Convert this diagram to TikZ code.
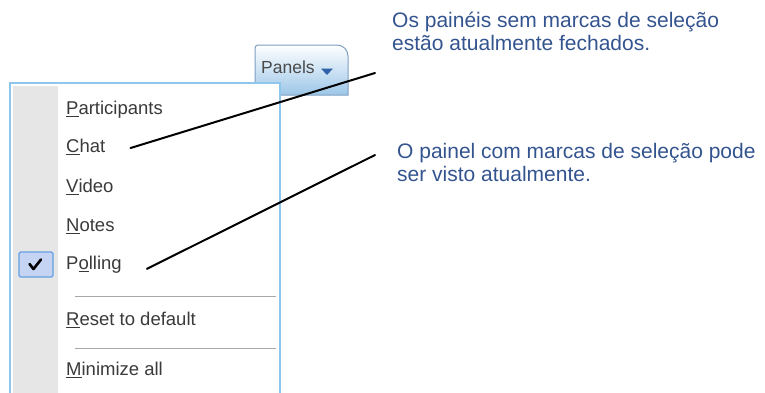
\documentclass[tikz,border=0pt]{standalone}
\usepackage{fontspec}
\setmainfont{Liberation Sans}
\definecolor{notecol}{HTML}{34548F}
\definecolor{menuborder}{HTML}{8EC6EE}
\definecolor{stripgray}{HTML}{E6E6E6}
\definecolor{itemcol}{HTML}{3A3A3A}
\definecolor{sepcol}{HTML}{A8A8A8}
\definecolor{checkfill}{HTML}{C4D4F2}
\definecolor{checkborder}{HTML}{62A0E2}
\definecolor{tabborder}{HTML}{7E9FC2}
\definecolor{tabbottom}{HTML}{9CC6E8}
\definecolor{tabtext}{HTML}{4A4A4A}
\definecolor{arrowblue}{HTML}{2F62A8}
\tikzset{
  note/.style={anchor=west, inner sep=0pt, align=left, text=notecol,
    font=\fontsize{21}{23}\selectfont},
  item/.style={anchor=mid west, inner sep=0pt, text=itemcol,
    font=\fontsize{18.5}{20}\selectfont},
  leader/.style={line width=2pt, black, line cap=round},
  sepline/.style={sepcol, line width=1pt},
}
\begin{document}
\begin{tikzpicture}[x=1pt,y=-1pt]
\useasboundingbox (0,0) rectangle (765,392);
% Panels tab
\shadedraw[top color=white, bottom color=tabbottom, draw=tabborder, line width=1pt]
  (255,95) -- (255,48) arc[start angle=180, end angle=270, radius=3]
  -- (337,45) arc[start angle=-90, end angle=0, radius=11] -- (348,95) -- cycle;
\node[anchor=mid west, inner sep=0pt, text=tabtext, font=\fontsize{17.5}{19}\selectfont] (panels) at (261,71) {Panels};
\fill[arrowblue] (321,68.5) -- (333,68.5) -- (327,75) -- cycle;
% menu
\fill[white] (10,83) rectangle (280,400);
\fill[stripgray] (13,86) rectangle (58,400);
\draw[menuborder, line width=2pt] (10,400) -- (10,83) -- (280,83) -- (280,400);
% check box
\draw[checkborder, fill=checkfill, line width=1.2pt, rounded corners=1.5pt] (19,252) rectangle (53,277);
\draw[black, line width=2.6pt, line join=round, line cap=round] (29.5,264) -- (33.5,269) -- (41,259.5);
% items
\node[item] (participants) at (66,112) {\underline{P}articipants};
\node[item] (chat) at (66,150) {\underline{C}hat};
\node[item] (video) at (66,190) {\underline{V}ideo};
\node[item] (notes) at (66,229) {\underline{N}otes};
\node[item] (polling) at (66,267) {P\underline{o}lling};
\node[item] (reset) at (66,323) {\underline{R}eset to default};
\node[item] (minimize) at (66,373) {\underline{M}inimize all};
\draw[sepline] (75,296) -- (276,296);
\draw[sepline] (75,348) -- (276,348);
% notes
\node[note] (note1) at (392,31.5) {Os painéis sem marcas de seleção\\estão atualmente fechados.};
\node[note] (note2) at (397,162.5) {O painel com marcas de seleção pode\\ser visto atualmente.};
\coordinate (end1) at (375,73);
\coordinate (end2) at (375,155);
\draw[leader] ([xshift=25pt,yshift=-1pt]chat.east) -- (end1);
\draw[leader] ([xshift=25pt,yshift=-4pt]polling.east) -- (end2);
\end{tikzpicture}
\end{document}
